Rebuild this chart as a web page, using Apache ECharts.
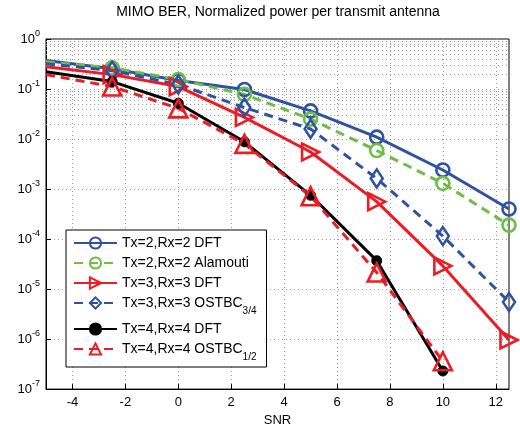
<!DOCTYPE html>
<html><head><meta charset="utf-8">
<script src="https://cdn.jsdelivr.net/npm/echarts@6/dist/echarts.min.js"></script>
<style>html,body{margin:0;padding:0;background:#fff}#c{width:520px;height:432px}</style>
</head><body><div id="c"></div>
<script>
// ---- data ----
const snr = [-5, -2.5, 0, 2.5, 5, 7.5, 10, 12.5];
const names = ['Tx=2,Rx=2 DFT', 'Tx=2,Rx=2 Alamouti', 'Tx=3,Rx=3 DFT', 'Tx=3,Rx=3 OSTBC', 'Tx=4,Rx=4 DFT', 'Tx=4,Rx=4 OSTBC'];
const subscripts = ['', '', '', '3/4', '', '1/2'];
const dft2 = [0.37, 0.255, 0.148, 0.098, 0.0365, 0.0109, 0.0024, 4.0e-4];
const alamouti = [0.35, 0.265, 0.155, 0.078, 0.025, 0.0059, 0.0013, 1.9e-4];
const dft3 = [0.279, 0.194, 0.112, 0.027, 0.0055, 5.6e-4, 2.9e-5, 9.6e-7];
const ostbc34 = [0.32, 0.233, 0.123, 0.0426, 0.0159, 0.00163, 1.15e-4, 5.5e-6];
const dft4 = [0.222, 0.141, 0.052, 0.0088, 7.5e-4, 3.7e-5, 2.3e-7, null];
const ostbc12 = [0.194, 0.112, 0.041, 0.008, 7.2e-4, 2.15e-5, 3.6e-7, null];
const xTicks = [-4, -2, 0, 2, 4, 6, 8, 10, 12];
const decades = [-7, -6, -5, -4, -3, -2, -1, 0];

// ---- build ----
const BLUE = '#2f52a4', GREEN = '#6cbe45', RED = '#ec1c24', BLACK = '#000';
function mk(arr) {
  const out = [];
  snr.forEach((x, i) => {
    if (arr[i] == null) return;
    if (i === 0) out.push({ value: [x, arr[i]], symbol: 'none' });
    else out.push([x, arr[i]]);
  });
  return out;
}
const minorVals = [];
decades.slice(0, -1).forEach(e => { for (let k = 2; k <= 9; k++) minorVals.push(k * Math.pow(10, e)); });

const dotted = { color: '#9a9a9a', width: 1, type: [1, 3] };

function ser(idx, arr, color, dash, symbol, size, opts) {
  return Object.assign({
    name: names[idx], type: 'line', data: mk(arr), showAllSymbol: true,
    symbol: symbol, symbolSize: size,
    lineStyle: { color: color, width: 3, type: dash ? [9, 6] : 'solid' },
    itemStyle: { color: 'rgba(255,255,255,0)', borderColor: color, borderWidth: 2.6 },
    emphasis: { disabled: true }, animation: false, z: 3
  }, opts || {});
}

const series = [
  { type: 'line', data: [], silent: true, z: 1,
    markLine: { silent: true, symbol: 'none', z: 1, animation: false, label: { show: false },
      lineStyle: dotted, data: minorVals.map(v => ({ yAxis: v })) } },
  ser(0, dft2, BLUE, false, 'circle', 13),
  ser(1, alamouti, GREEN, true, 'circle', 13),
  ser(2, dft3, RED, false, 'triangle', 17, { symbolRotate: -90 }),
  ser(3, ostbc34, BLUE, true, 'diamond', [12, 18]),
  ser(4, dft4, BLACK, false, 'circle', 10, { itemStyle: { color: BLACK, borderColor: BLACK, borderWidth: 1 } }),
  ser(5, ostbc12, RED, true, 'triangle', 18)
];

const chart = echarts.init(document.getElementById('c'), null, { renderer: 'canvas' });
const FONT = 'Liberation Sans';
chart.setOption({
  animation: false,
  backgroundColor: '#fff',
  title: { text: 'MIMO BER, Normalized power per transmit antenna', left: 278, textAlign: 'center', top: 5, padding: 0,
    textStyle: { fontFamily: FONT, fontSize: 14, fontWeight: 'normal', color: '#000' } },
  grid: { left: 46, right: 11, top: 39, bottom: 39, show: true, borderColor: '#000', borderWidth: 1, backgroundColor: 'transparent' },
  xAxis: {
    type: 'value', min: -5, max: 12.5, name: 'SNR', nameLocation: 'middle', nameGap: 23,
    nameTextStyle: { fontFamily: FONT, fontSize: 13, color: '#000' },
    axisLine: { onZero: false, lineStyle: { color: '#000' } },
    axisTick: { inside: true, length: 5, customValues: xTicks, lineStyle: { color: '#000' } },
    axisLabel: { customValues: xTicks, fontFamily: FONT, fontSize: 13, color: '#000', margin: 7 },
    splitLine: { show: true, lineStyle: dotted }
  },
  yAxis: {
    type: 'log', logBase: 10, min: 1e-7, max: 1,
    axisLine: { onZero: false, lineStyle: { color: '#000' } },
    axisTick: { inside: true, length: 5, lineStyle: { color: '#000' } },
    axisLabel: {
      margin: 6, color: '#000',
      formatter: v => { const e = Math.round(Math.log10(v)); return '{b|10}{s|' + e + '}'; },
      rich: {
        b: { fontFamily: FONT, fontSize: 13, lineHeight: 20, verticalAlign: 'middle', color: '#000' },
        s: { fontFamily: FONT, fontSize: 9, lineHeight: 9, verticalAlign: 'top', color: '#000' }
      }
    },
    splitLine: { show: true, lineStyle: dotted }
  },
  legend: {
    orient: 'vertical', left: 66, top: 230, data: names,
    backgroundColor: '#fff', borderColor: '#000', borderWidth: 1, padding: [6, 10, 5, 7],
    itemWidth: 43, itemHeight: 14, itemGap: 6, selectedMode: false,
    formatter: n => { const i = names.indexOf(n); return subscripts[i] ? '{t|' + n + '}{u|' + subscripts[i] + '}' : '{t|' + n + '}'; },
    textStyle: {
      fontFamily: FONT, fontSize: 14, color: '#000',
      rich: {
        t: { fontFamily: FONT, fontSize: 14, lineHeight: 14, verticalAlign: 'middle', color: '#000' },
        u: { fontFamily: FONT, fontSize: 10, lineHeight: 10, padding: [10, 0, 0, 0], verticalAlign: 'top', color: '#000' }
      }
    }
  },
  series: series
});
</script></body></html>
